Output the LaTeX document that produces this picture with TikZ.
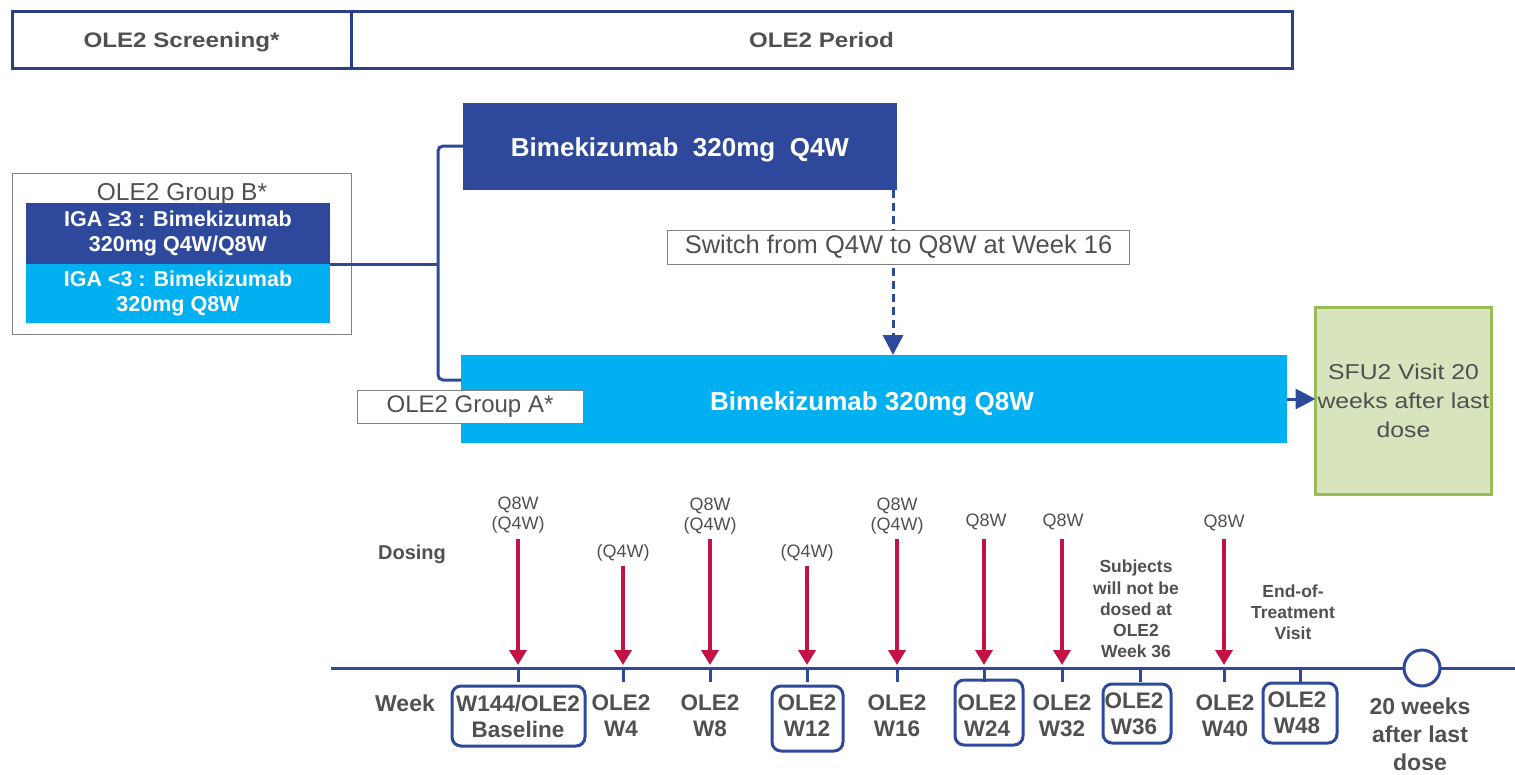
\documentclass[tikz,border=0pt]{standalone}
\usepackage{fontspec}
\setmainfont{Liberation Sans}
\newfontfamily\wf[FakeStretch=1.15]{Liberation Sans}
\usetikzlibrary{arrows.meta}
\definecolor{navy}{RGB}{46,73,155}
\definecolor{frame}{RGB}{44,62,138}
\definecolor{sky}{RGB}{0,176,240}
\definecolor{dose}{RGB}{196,18,68}
\definecolor{txt}{RGB}{80,80,80}
\definecolor{gbox}{RGB}{130,130,130}
\definecolor{sfufill}{RGB}{215,228,189}
\definecolor{sfuline}{RGB}{155,187,89}
\newcommand\fs[2]{\fontsize{#1}{#2}\selectfont}
\begin{document}
\begin{tikzpicture}[x=1pt,y=-1pt,
  every node/.style={inner sep=0pt, outer sep=0pt, align=center, text=txt},
  topcell/.style={draw=frame, line width=3pt, minimum height=57pt},
  toptext/.style={font=\wf\bfseries\fs{21}{25}, anchor=base},
  boxtext/.style={text=white, font=\bfseries\fs{26}{30}, anchor=base},
  igatext/.style={text=white, font=\bfseries\fs{21.5}{25}, minimum width=304pt},
  labelbox/.style={draw=gbox, line width=0.8pt, fill=white},
  conn/.style={draw=navy, line width=3pt, rounded corners=5pt},
  navyarrow/.style={draw=navy, line width=3pt, -{Triangle[width=20pt,length=20pt]}},
  dasharrow/.style={draw=navy, line width=3pt, dash pattern=on 8pt off 5pt, -{Triangle[width=20pt,length=20pt]}},
  dosearrow/.style={draw=dose, line width=4.5pt, shorten >=3pt, -{Triangle[width=17pt,length=15pt]}},
  tline/.style={draw=navy, line width=3pt},
  wkbox/.style={draw=navy, line width=3pt, rounded corners=9pt},
  wktext/.style={font=\bfseries\fs{22.5}{26}},
  dosetext/.style={font=\fs{18}{20.5}},
  notetext/.style={font=\bfseries\fs{17.5}{21.25}}
]
\useasboundingbox (0,0) rectangle (1515,774);

% ---------- top bar ----------
\node[topcell, minimum width=339pt] (scr) at (181.5,40) {};
\node[topcell, minimum width=941pt] (per) at (821.5,40) {};
\node[toptext] (scrT) at (181.5,47) {OLE2 Screening*};
\node[toptext] (perT) at (821.5,47) {OLE2 Period};

% ---------- Group B ----------
\node[draw=gbox, line width=1pt, minimum width=339pt, minimum height=161pt] (gb) at (181.5,253.5) {};
\node[font=\fs{24.5}{29}, anchor=base] (gbT) at (182,200) {OLE2 Group B*};
\node[fill=navy, igatext, minimum height=61pt] (iga3) at (178,233.5) {IGA ≥3 : Bimekizumab\\320mg Q4W/Q8W};
\node[fill=sky, igatext, minimum height=59pt] (igal) at (178,293.5) {IGA <3 : Bimekizumab\\320mg Q8W};

% ---------- treatment boxes ----------
\node[fill=navy, minimum width=434pt, minimum height=87pt] (q4w) at (680,146) {};
\node[boxtext] (q4wT) at (680,156) {Bimekizumab\ \ 320mg\ \ Q4W};
\node[fill=sky, minimum width=826pt, minimum height=88pt] (q8w) at (874,399) {};
\node[boxtext] (q8wT) at (872,410) {Bimekizumab 320mg Q8W};

% connector from Group B
\coordinate (bj) at (438,264);
\coordinate (btop) at (438,146);
\coordinate (bbot) at (438,380);
\coordinate (a8) at (q8w.west |- bbot);
\draw[conn] (q4w.west) -- (btop) -- (bbot) -- (a8);
\draw[conn] (iga3.south east) -- (bj);

% Group A label
\node[labelbox, minimum width=226pt, minimum height=33pt, font=\fs{24}{28}] (ga) at (470,406.5) {OLE2 Group A*};

% switch dashed arrow
\coordinate (dtop) at ([xshift=-4pt]q4w.south east);
\draw[dasharrow] (dtop) -- (dtop |- q8w.north);
\node[labelbox, minimum width=462pt, minimum height=34pt, font=\fs{25.5}{29}] (sw) at (898.5,247) {Switch from Q4W to Q8W at Week 16};

% SFU2
\node[fill=sfufill, draw=sfuline, line width=3.5pt, minimum width=176pt, minimum height=187pt, font=\wf\fs{21.5}{29}] (sfu) at (1403.5,401) {SFU2 Visit 20\\weeks after last\\dose};
\draw[navyarrow] (q8w.east) -- (sfu.west |- q8w.east);

% ---------- timeline ----------
\coordinate (tl0) at (331,668);
\coordinate (tl1) at (1515,668);
\draw[tline] (tl0) -- (tl1);

\foreach \n/\x in {a/518,b/623,c/710,d/807,e/897,f/984,g/1062,h/1140,i/1224,j/1300}{
  \coordinate (t\n) at (\x,668);
  \draw[tline] (t\n) -- ++(0,14);
}
\node[draw=navy, line width=3pt, fill=white, circle, minimum size=36pt] (circ) at (1422,668) {};

% dosing arrows
\foreach \n/\x/\y in {a/518/539,b/623/566,c/710/539,d/807/566,e/897/539,f/984/539,g/1062/539,i/1224/539}{
  \coordinate (d\n) at (\x,\y);
  \draw[dosearrow] (d\n) -- (t\n);
}

% dosing labels
\node[font=\bfseries\fs{20}{24}, anchor=base] (dosing) at (412,559) {Dosing};
\node[dosetext] (la) at (518,515) {Q8W\\(Q4W)};
\node[dosetext] (lb) at (623,553) {(Q4W)};
\node[dosetext] (lc) at (710,516) {Q8W\\(Q4W)};
\node[dosetext] (ld) at (807,553) {(Q4W)};
\node[dosetext] (le) at (897,516) {Q8W\\(Q4W)};
\node[dosetext] (lf) at (986,522) {Q8W};
\node[dosetext] (lg) at (1063,522) {Q8W};
\node[dosetext] (li) at (1224,523) {Q8W};
\node[notetext] (nsub) at (1136,609) {Subjects\\will not be\\dosed at\\OLE2\\Week 36};
\node[notetext] (neot) at (1293,612) {End-of-\\Treatment\\Visit};

% week labels
\node[font=\bfseries\fs{23}{27}, anchor=base] (week) at (405,711) {Week};
\node[wkbox, minimum width=133pt, minimum height=60pt] (ba) at (518.5,716) {};
\node[wkbox, minimum width=71pt, minimum height=65pt] (bd) at (807.5,718.5) {};
\node[wkbox, minimum width=68pt, minimum height=65pt] (bf) at (989,712.5) {};
\node[wkbox, minimum width=68pt, minimum height=59pt] (bh) at (1137,713.5) {};
\node[wkbox, minimum width=74pt, minimum height=60pt] (bj2) at (1300,713) {};
\node[wktext] (wa) at (518,716) {W144/OLE2\\Baseline};
\node[wktext] (wb) at (621,716) {OLE2\\W4};
\node[wktext] (wc) at (710,716) {OLE2\\W8};
\node[wktext] (wd) at (807,716) {OLE2\\W12};
\node[wktext] (we) at (897,716) {OLE2\\W16};
\node[wktext] (wf) at (987,716) {OLE2\\W24};
\node[wktext] (wg) at (1062,716) {OLE2\\W32};
\node[wktext] (wh) at (1134,714) {OLE2\\W36};
\node[wktext] (wi) at (1225,716) {OLE2\\W40};
\node[wktext] (wj) at (1297,713) {OLE2\\W48};
\node[font=\bfseries\fs{23}{28}] (w20) at (1420,734) {20 weeks\\after last\\dose};
\end{tikzpicture}
\end{document}
